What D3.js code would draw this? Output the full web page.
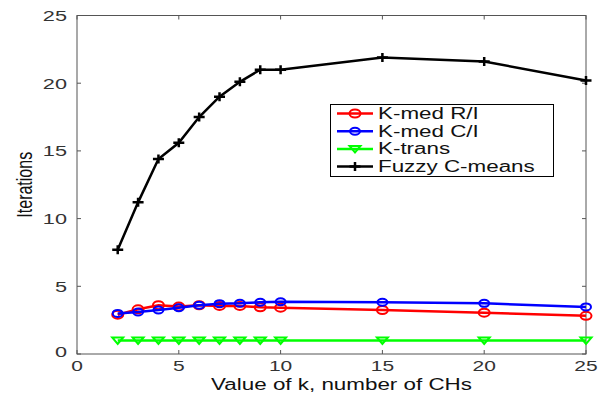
<!DOCTYPE html>
<html><head><meta charset="utf-8">
<script src="https://cdn.jsdelivr.net/npm/d3@7"></script>
<style>body{margin:0;background:#fff}svg{display:block}</style>
</head><body>
<script>
const kValues = [2,3,4,5,6,7,8,9,10,15,20,25];
const kmedRI = [2.9,3.3,3.6,3.5,3.6,3.55,3.55,3.45,3.42,3.25,3.05,2.82];
const kmedCI = [3.0,3.1,3.25,3.42,3.6,3.72,3.75,3.82,3.86,3.82,3.74,3.48];
const ktrans = [1,1,1,1,1,1,1,1,1,1,1,1];
const fuzzy = [7.7,11.2,14.4,15.6,17.5,19.0,20.1,21.0,21.0,21.9,21.6,20.2];
const xTicks = [0,5,10,15,20,25];
const yTicks = [0,5,10,15,20,25];
const seriesNames = ["K-med R/I","K-med C/I","K-trans","Fuzzy C-means"];
const xLabel = "Value of k, number of CHs";
const yLabel = "Iterations";

const W=600,H=397;
const L=77,R=586,T=15.5,B=354;
const SX=1.4;
const svg=d3.select("body").append("svg").attr("width",W).attr("height",H);
const x=d3.scaleLinear().domain([0,25]).range([L,R]);
const y=d3.scaleLinear().domain([0,25]).range([B,T]);

svg.append("rect").attr("x",L).attr("y",T).attr("width",R-L).attr("height",B-T)
  .attr("fill","none").attr("stroke","#555").attr("stroke-width",1);

function stretchText(sel){
  sel.each(function(){
    const t=d3.select(this);
    const ax=+t.attr("data-x"), ay=+t.attr("data-y");
    t.attr("transform",`translate(${ax},${ay}) scale(${SX},1)`);
  });
}
const font="Liberation Sans, Arial, sans-serif";
const tl=4;
xTicks.forEach(v=>{
  svg.append("line").attr("x1",x(v)).attr("x2",x(v)).attr("y1",B).attr("y2",B-tl).attr("stroke","#555");
  svg.append("line").attr("x1",x(v)).attr("x2",x(v)).attr("y1",T).attr("y2",T+tl).attr("stroke","#555");
  svg.append("text").attr("data-x",x(v)).attr("data-y",B+17).attr("text-anchor","middle")
    .attr("font-family",font).attr("font-size",15).attr("fill","#333").text(v);
});
yTicks.forEach(v=>{
  svg.append("line").attr("x1",L).attr("x2",L+tl).attr("y1",y(v)).attr("y2",y(v)).attr("stroke","#555");
  svg.append("line").attr("x1",R).attr("x2",R-tl).attr("y1",y(v)).attr("y2",y(v)).attr("stroke","#555");
  svg.append("text").attr("data-x",67).attr("data-y",y(v)+(v===0?3:5.5)).attr("text-anchor","end")
    .attr("font-family",font).attr("font-size",15.5).attr("fill","#333").text(v);
});
svg.append("text").attr("data-x",(L+R)/2+10).attr("data-y",389.5).attr("text-anchor","middle")
  .attr("font-family",font).attr("font-size",16).attr("fill","#111").text(xLabel);
svg.selectAll("text").call(stretchText);
svg.append("text").attr("transform",`translate(32,${(T+B)/2}) rotate(-90) scale(1,${SX})`)
  .attr("text-anchor","middle").attr("font-family",font).attr("font-size",16).attr("fill","#111").text(yLabel);

const series=[
  {name:seriesNames[0],vals:kmedRI,color:"#ff0000",marker:"circle"},
  {name:seriesNames[1],vals:kmedCI,color:"#0000ff",marker:"circle2"},
  {name:seriesNames[2],vals:ktrans,color:"#00ff00",marker:"tri"},
  {name:seriesNames[3],vals:fuzzy,color:"#000000",marker:"plus"}
];
const line=d3.line().x(d=>x(d[0])).y(d=>y(d[1]));
function marker(g,cx,cy,s){
  if(s.marker==="circle"){
    g.append("ellipse").attr("cx",cx).attr("cy",cy).attr("rx",5.5).attr("ry",4).attr("fill","none").attr("stroke",s.color).attr("stroke-width",2);
  } else if(s.marker==="circle2"){
    g.append("ellipse").attr("cx",cx).attr("cy",cy).attr("rx",5).attr("ry",3.5).attr("fill","none").attr("stroke",s.color).attr("stroke-width",2);
  } else if(s.marker==="tri"){
    g.append("path").attr("d",`M${cx-5.5},${cy-3}L${cx+5.5},${cy-3}L${cx},${cy+3.5}Z`).attr("fill","none").attr("stroke",s.color).attr("stroke-width",2);
  } else {
    g.append("path").attr("d",`M${cx-5.5},${cy}L${cx+5.5},${cy}M${cx},${cy-4.5}L${cx},${cy+4.5}`).attr("stroke",s.color).attr("stroke-width",2.5);
  }
}
series.forEach(s=>{
  const data=kValues.map((k,i)=>[k,s.vals[i]]);
  const g=svg.append("g");
  g.append("path").datum(data).attr("d",line).attr("fill","none").attr("stroke",s.color).attr("stroke-width",2.5);
  data.forEach(d=>marker(g,x(d[0]),y(d[1]),s));
});

const lg=svg.append("g");
lg.append("rect").attr("x",330.5).attr("y",104.5).attr("width",223).attr("height",72).attr("fill","#fff").attr("stroke","#000").attr("stroke-width",1);
series.forEach((s,i)=>{
  const cy=113.5+i*17.7;
  lg.append("line").attr("x1",337).attr("x2",373).attr("y1",cy).attr("y2",cy).attr("stroke",s.color).attr("stroke-width",2.5);
  marker(lg,355,cy,s);
  lg.append("text").attr("transform",`translate(378,${cy+5.5}) scale(${SX},1)`).attr("font-family",font).attr("font-size",16).attr("fill","#111").text(s.name);
});
</script>
</body></html>
